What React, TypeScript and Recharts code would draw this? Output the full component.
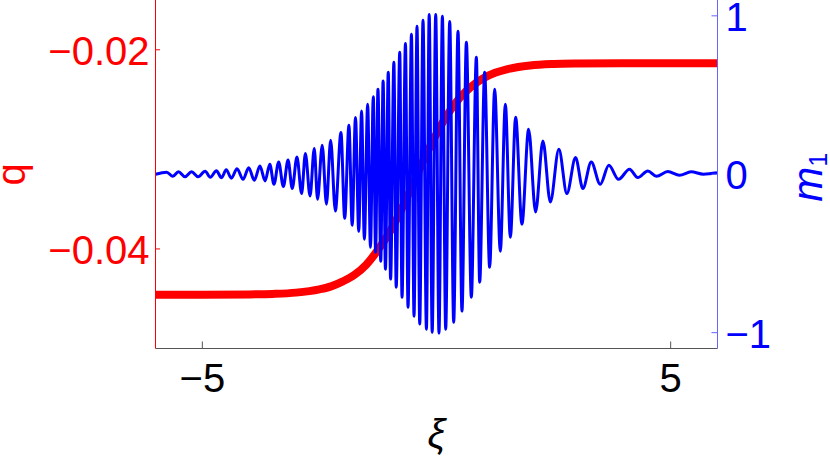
import React from 'react'
import { LineChart, Line, XAxis, YAxis } from 'recharts'

// axis ticks
const xiTicks = [-5, 5]
const qTicks = [-0.04, -0.02]
const mTicks = [-1, 0, 1]

// q(ξ): red step curve
const qXi = [-6, -5, -4, -3.5, -3, -2.5, -2.25, -2, -1.75, -1.5, -1.25, -1, -0.75, -0.5, -0.25, 0, 0.25, 0.5, 0.75, 1, 1.25, 1.5, 2, 2.5, 3, 4, 5, 6]
const qValues = [-0.0446, -0.0446, -0.04457, -0.04452, -0.04439, -0.04406, -0.04376, -0.04326, -0.0426, -0.04158, -0.0401, -0.0383, -0.03603, -0.03347, -0.03082, -0.02844, -0.02639, -0.02481, -0.02367, -0.02286, -0.02231, -0.02196, -0.02158, -0.02143, -0.02138, -0.02135, -0.02135, -0.02135]

// m1(ξ): blue wave packet, peaks and troughs
const mXi = [
  -6.0, -5.76, -5.63, -5.51, -5.37, -5.23, -5.09, -4.94, -4.83, -4.7, -4.59, -4.49, -4.38, -4.26, -4.13, -4.01, -3.89,
  -3.77, -3.66, -3.56, -3.47, -3.37, -3.27, -3.17, -3.08, -2.98, -2.88, -2.8, -2.7, -2.61, -2.54, -2.44, -2.35, -2.26,
  -2.16, -2.04, -1.96, -1.87, -1.8, -1.73, -1.66, -1.6, -1.54, -1.47, -1.41, -1.35, -1.3, -1.25, -1.19, -1.14, -1.09,
  -1.03, -0.98, -0.91, -0.86, -0.785, -0.736, -0.663, -0.608, -0.535, -0.48, -0.416, -0.358, -0.288, -0.215, -0.156,
  -0.092, -0.017, 0.053, 0.126, 0.196, 0.282, 0.367, 0.459, 0.544, 0.638, 0.744, 0.851, 0.922, 1.028, 1.135, 1.242,
  1.363, 1.47, 1.577, 1.69, 1.824, 1.967, 2.116, 2.272, 2.43, 2.613, 2.784, 2.969, 3.125, 3.304, 3.496, 3.68, 3.887,
  4.121, 4.298, 4.512, 4.697, 4.938, 5.188, 5.437, 5.7, 5.99,
]
const mValues = [
  0, 0.013, -0.013, 0.016, -0.016, 0.016, -0.016, 0.019, -0.019, 0.022, -0.022, 0.028, -0.025, 0.035, -0.032, 0.041, -0.038,
  0.052, -0.042, 0.063, -0.063, 0.078, -0.078, 0.09, -0.09, 0.109, -0.122, 0.131, -0.137, 0.162, -0.158, 0.183, -0.189, 0.215,
  -0.232, 0.263, -0.278, 0.309, -0.322, 0.358, -0.36, 0.399, -0.41, 0.442, -0.461, 0.49, -0.492, 0.536, -0.549, 0.589, -0.599,
  0.644, -0.662, 0.707, -0.713, 0.77, -0.776, 0.826, -0.839, 0.883, -0.896, 0.934, -0.946, 0.972, -0.978, 1.009,
  -0.997, 1.009, -1.003, 0.997, -0.978, 0.965, -0.934, 0.902, -0.864, 0.833, -0.776, 0.738, -0.681, 0.644, -0.587, 0.536,
  -0.486, 0.442, -0.397, 0.36, -0.315, 0.284, -0.238, 0.21, -0.175, 0.158, -0.122, 0.105, -0.09, 0.078, -0.063, 0.057, -0.032,
  0.032, -0.021, 0.021, -0.013, 0.017, -0.006, 0.015, 0, 0.009,
]

const qData = qXi.map((x, i) => ({ x, q: qValues[i] }))
const mData = mXi.map((x, i) => ({ x, m: mValues[i] }))

const FONT = '"Liberation Sans", Arial, Helvetica, sans-serif'
const RED = '#ff0000'
const BLUE = '#0000ff'
const AXIS_BLUE = '#6464ff'
const GRAY = '#555555'

const fmt = (v: number, digits: number) => (v < 0 ? '\u2212' : '') + Math.abs(v).toFixed(digits)

// ticks point into the plot, like Mathematica's frame
function XiTick({ x, y, payload }: any) {
  return (
    <g>
      <line x1={x} x2={x} y1={y} y2={y - 7} stroke={GRAY} strokeWidth={1} />
      <text x={x} y={y + 43} textAnchor="middle" fill="#000" fontSize={40} fontFamily={FONT}>
        {fmt(payload.value, 0)}
      </text>
    </g>
  )
}

function QTick({ x, y, payload }: any) {
  return (
    <g>
      <line x1={x} x2={x + 4.5} y1={y} y2={y} stroke={RED} strokeWidth={1} />
      <text x={x - 6} y={y + 15} textAnchor="end" fill={RED} fontSize={40} fontFamily={FONT}>
        {fmt(payload.value, 2)}
      </text>
    </g>
  )
}

function MTick({ x, y, payload }: any) {
  return (
    <g>
      <line x1={x - 6} x2={x} y1={y} y2={y} stroke={AXIS_BLUE} strokeWidth={1} />
      <text x={x + 8} y={y + 15} textAnchor="start" fill={BLUE} fontSize={40} fontFamily={FONT}>
        {fmt(payload.value, 0)}
      </text>
    </g>
  )
}

export default function App() {
  return (
    <div style={{ position: 'absolute', left: 0, top: 0, width: 830, height: 459, background: '#fff' }}>
      <LineChart width={830} height={459} margin={{ top: 0, right: 0, bottom: 0, left: 0.5 }}>
        <XAxis
          dataKey="x"
          type="number"
          domain={[-6, 6]}
          ticks={xiTicks}
          allowDataOverflow
          height={110.5}
          tickSize={0}
          tickMargin={0}
          tickLine={false}
          axisLine={{ stroke: GRAY, strokeWidth: 1 }}
          tick={<XiTick />}
          label={{
            content: ({ viewBox }: any) => (
              <text
                x={viewBox.x + viewBox.width / 2}
                y={448}
                textAnchor="middle"
                fontSize={40}
                fontStyle="italic"
                fontFamily={FONT}
                fill="#000"
              >
                ξ
              </text>
            ),
          }}
        />
        <YAxis
          yAxisId="q"
          orientation="left"
          type="number"
          domain={[-0.05, -0.015]}
          ticks={qTicks}
          allowDataOverflow
          width={155}
          tickSize={0}
          tickMargin={0}
          tickLine={false}
          axisLine={{ stroke: RED, strokeWidth: 1 }}
          tick={<QTick />}
          label={{
            content: ({ viewBox }: any) => {
              const cx = viewBox.x + 24
              const cy = viewBox.y + viewBox.height / 2
              return (
                <text
                  x={cx}
                  y={cy}
                  transform={`rotate(-90 ${cx} ${cy})`}
                  textAnchor="middle"
                  fontSize={40}
                  fontFamily={FONT}
                  fill={RED}
                >
                  q
                </text>
              )
            },
          }}
        />
        <YAxis
          yAxisId="m"
          orientation="right"
          type="number"
          domain={[-1.1, 1.1]}
          ticks={mTicks}
          allowDataOverflow
          width={112.5}
          tickSize={0}
          tickMargin={0}
          tickLine={false}
          axisLine={{ stroke: AXIS_BLUE, strokeWidth: 1 }}
          tick={<MTick />}
          label={{
            content: ({ viewBox }: any) => {
              const cx = 822
              const cy = viewBox.y + viewBox.height / 2 + 3
              return (
                <text
                  x={cx}
                  y={cy}
                  transform={`rotate(-90 ${cx} ${cy})`}
                  textAnchor="middle"
                  fontSize={42}
                  fontStyle="italic"
                  fontFamily={FONT}
                  fill={BLUE}
                >
                  m
                  <tspan fontSize={25} fontStyle="normal" dy={5}>
                    1
                  </tspan>
                </text>
              )
            },
          }}
        />
        <Line
          yAxisId="q"
          data={qData}
          dataKey="q"
          type="monotone"
          stroke={RED}
          strokeWidth={8}
          dot={false}
          activeDot={false}
          isAnimationActive={false}
        />
        <Line
          yAxisId="m"
          data={mData}
          dataKey="m"
          type="monotone"
          stroke={BLUE}
          strokeWidth={3}
          dot={false}
          activeDot={false}
          isAnimationActive={false}
        />
      </LineChart>
    </div>
  )
}
